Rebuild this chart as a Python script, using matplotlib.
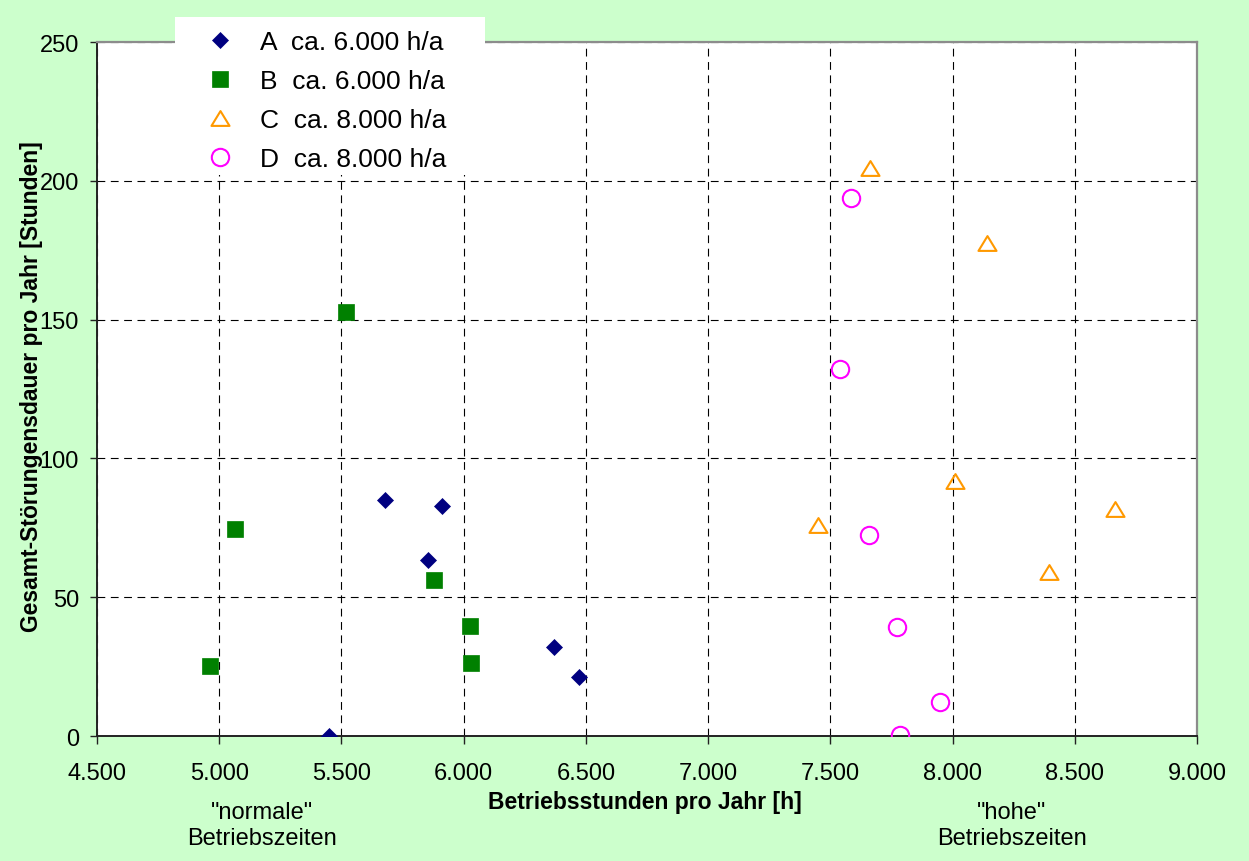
import matplotlib
matplotlib.use("Agg")
import matplotlib.pyplot as plt
from matplotlib.path import Path
from matplotlib.patches import Rectangle
from matplotlib.ticker import FuncFormatter
from matplotlib.transforms import blended_transform_factory

plt.rcParams["font.family"] = ["Liberation Sans", "DejaVu Sans"]

# Betriebsstunden [h] und Gesamt-Störungsdauer [h] je Anlage
a_hours = [5450, 5680, 5910, 5855, 6368, 6473]
a_down = [0, 85, 83, 63.5, 32, 21.3]

b_hours = [5520, 5063, 5878, 6027, 6030, 4962]
b_down = [152.7, 74.6, 56.2, 39.6, 26.3, 25.2]

c_hours = [7664, 8140, 8011, 8666, 7450, 8396]
c_down = [204.5, 177.5, 91.9, 81.8, 75.9, 59.1]

d_hours = [7586, 7541, 7658, 7772, 7948, 7787]
d_down = [193.8, 132.2, 72.5, 39.1, 12.1, 0.2]

series_labels = ["A  ca. 6.000 h/a", "B  ca. 6.000 h/a",
                 "C  ca. 8.000 h/a", "D  ca. 8.000 h/a"]

x_ticks = [4500, 5000, 5500, 6000, 6500, 7000, 7500, 8000, 8500, 9000]
y_ticks = [0, 50, 100, 150, 200, 250]

BG = "#CCFFCC"
W, H = 1249, 862

fig = plt.figure(figsize=(W / 100, H / 100), dpi=100, facecolor=BG)
ax = fig.add_axes([97 / W, 1 - 737 / H, 1100 / W, 694 / H])
ax.set_facecolor("white")

# wider-than-tall open triangle, as in office chart markers
tri = Path([(0, 0.82), (-1, -0.82), (1, -0.82), (0, 0.82)],
           [Path.MOVETO, Path.LINETO, Path.LINETO, Path.CLOSEPOLY])

la, = ax.plot(a_hours, a_down, ls="none", marker="D", ms=8.6,
              mfc="#000080", mec="#000080", mew=0.5, zorder=3)
lb, = ax.plot(b_hours, b_down, ls="none", marker="s", ms=11,
              mfc="#008000", mec="#008000", mew=0.5, zorder=3)
lc, = ax.plot(c_hours, c_down, ls="none", marker=tri, ms=13,
              mfc="none", mec="#FF9900", mew=1.5, zorder=3)
ld, = ax.plot(d_hours, d_down, ls="none", marker="o", ms=12.5,
              mfc="none", mec="#FF00FF", mew=1.5, zorder=3)

ax.set_xlim(4500, 9000)
ax.set_ylim(0, 250)
ax.set_xticks(x_ticks)
ax.set_yticks(y_ticks)
ax.xaxis.set_major_formatter(FuncFormatter(lambda v, p: f"{int(v):,}".replace(",", ".")))
ax.yaxis.set_major_formatter(FuncFormatter(lambda v, p: f"{int(v)}"))

ax.grid(True, color="black", lw=0.8, ls=(0, (7, 5)), zorder=1)
ax.set_axisbelow(True)

for side in ("left", "bottom"):
    ax.spines[side].set_color("#222222")
    ax.spines[side].set_linewidth(1.4)
for side in ("top", "right"):
    ax.spines[side].set_color("#8C8C8C")
    ax.spines[side].set_linewidth(1.6)

ax.tick_params(axis="x", direction="out", length=5.5, width=1, color="#222222",
               labelsize=17, pad=13)
ax.tick_params(axis="y", direction="out", length=5, width=1, color="#222222",
               labelsize=17, pad=8)

ax.set_xlabel("Betriebsstunden pro Jahr [h]", fontsize=16.5, fontweight="bold")
ax.xaxis.set_label_coords(0.498, -0.078)
ax.set_ylabel("Gesamt-Störungensdauer pro Jahr [Stunden]", fontsize=16.5,
              fontweight="bold")
ax.yaxis.set_label_coords(-0.049, 0.505)

trans = blended_transform_factory(ax.transData, ax.transAxes)
ax.text(5175, -0.128, "\"normale\"\nBetriebszeiten", transform=trans,
        ha="center", va="center", fontsize=17, multialignment="center",
        linespacing=1.25)
ax.text(8243, -0.128, "\"hohe\"\nBetriebszeiten", transform=trans,
        ha="center", va="center", fontsize=17, multialignment="center",
        linespacing=1.25)

# white legend panel overlapping the top edge of the plot area
fig.patches.append(Rectangle((175 / W, 1 - 176 / H), 310 / W, 158 / H,
                             transform=fig.transFigure, facecolor="white",
                             edgecolor="none", zorder=4))
leg = fig.legend([la, lb, lc, ld], series_labels, loc="upper left",
                 bbox_to_anchor=(195 / W, 1 - 31 / H), frameon=False,
                 borderpad=0, borderaxespad=0, fontsize=19, numpoints=1,
                 handlelength=1.9, handletextpad=0.55, labelspacing=0.57)
leg.set_zorder(5)

fig.savefig("out.png", dpi=100, facecolor=BG)
